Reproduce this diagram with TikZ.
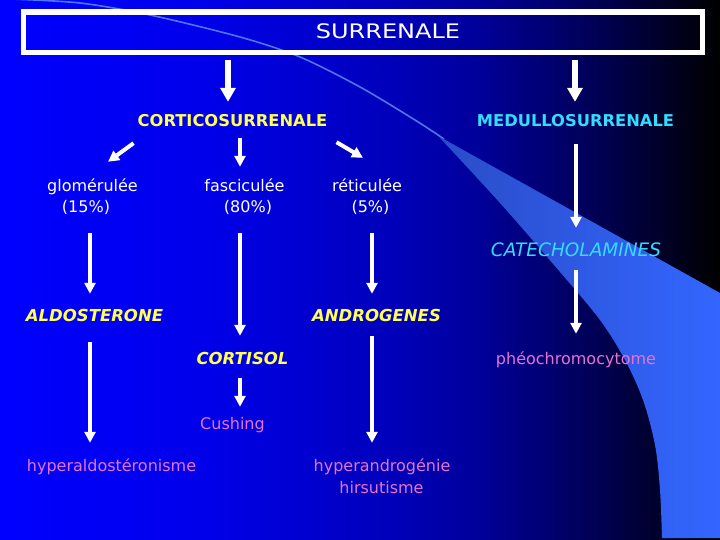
\documentclass[tikz,border=0pt]{standalone}
\usepackage{fontspec}
\setmainfont{DejaVu Sans}
\newfontfamily\widefont[FakeStretch=1.2]{DejaVu Sans}
\usetikzlibrary{arrows.meta,calc}
\definecolor{ylw}{HTML}{FFFF55}
\definecolor{cyn}{HTML}{33DDFF}
\definecolor{pnk}{HTML}{E673D2}
\definecolor{wedgec}{HTML}{3366FF}
\definecolor{wedged}{HTML}{2A4CC8}
\definecolor{arcc}{HTML}{4A78F0}
\pgfdeclarehorizontalshading{bgshade}{100bp}{rgb(0bp)=(0,0,1); rgb(25bp)=(0,0,1); rgb(38.9bp)=(0,0,0.92); rgb(52.8bp)=(0,0,0.72); rgb(58.3bp)=(0,0,0.6); rgb(66.7bp)=(0,0,0.32); rgb(75bp)=(0,0,0); rgb(100bp)=(0,0,0)}
\tikzset{
  titlebox/.style={draw=white, line width=5.5pt, minimum width=679pt, minimum height=40.5pt, inner sep=0pt},
  titletext/.style={font={\fontsize{20}{24}\widefont}, text=white, inner sep=0pt, text height=14pt, text depth=0pt, anchor=base},
  capsbold/.style={font=\fontsize{16.3}{19}\selectfont\bfseries, inner sep=0pt, text height=12pt, text depth=0pt, anchor=base},
  capsbi/.style={font=\fontsize{16.5}{19}\selectfont\bfseries\itshape, inner sep=0pt, text height=12pt, text depth=0pt, anchor=base},
  capsital/.style={font=\fontsize{18.5}{22}\selectfont\itshape, inner sep=0pt, text height=13.5pt, text depth=0pt, anchor=base},
  lower/.style={font=\fontsize{16}{19}\selectfont, inner sep=0pt, text height=12pt, text depth=3.8pt, anchor=base},
  arr/.style={draw=white, line width=4pt, -{Triangle[width=11pt,length=11pt]}},
  bigarr/.style={draw=white, line width=6.5pt, -{Triangle[width=15pt,length=14pt]}}
}
\begin{document}
\begin{tikzpicture}[x=1pt,y=1pt]
\useasboundingbox (0,0) rectangle (720,-540);
\shade[shading=bgshade] (0,0) rectangle (720,-540);
% decorative arc and wedge
\draw[arcc, line width=1.6pt] plot[smooth] coordinates {(10,1) (80,-3) (150,-15) (240,-37) (300,-57) (360,-87) (415,-120) (444,-139)};
\shade[left color=wedged, right color=wedgec]
  (440,-137) -- (720,-293)
  -- (720,-538) -- (662,-538)
  -- plot[smooth, tension=0.55] coordinates {(662,-538) (660,-490) (655,-445) (643,-400) (625,-360) (600,-320) (560,-272) (500,-203) (440,-138)}
  -- cycle;
% nodes
\node[titlebox] (surr) at (363,-32.25) {};
\node[titletext] (surrtxt) at (388,-39) {SURRENALE};
\node[capsbold, text=ylw] (cortico) at (232.5,-127) {CORTICOSURRENALE};
\node[capsbold, text=cyn] (medullo) at (575.5,-127) {MEDULLOSURRENALE};
\node[lower, text=white] (glom) at (92.5,-192) {glomérulée};
\node[lower, text=white] (glompct) at (86,-213) {(15\%)};
\node[lower, text=white] (fasc) at (244.5,-192) {fasciculée};
\node[lower, text=white] (fascpct) at (248,-213) {(80\%)};
\node[lower, text=white] (reti) at (367,-192) {réticulée};
\node[lower, text=white] (retipct) at (370.5,-213) {(5\%)};
\node[capsital, text=cyn] (catech) at (576,-256) {CATECHOLAMINES};
\node[capsbi, text=ylw] (aldo) at (94.5,-321) {ALDOSTERONE};
\node[capsbi, text=ylw] (andro) at (376.5,-321) {ANDROGENES};
\node[capsbi, text=ylw] (cortisol) at (242.5,-364) {CORTISOL};
\node[lower, text=pnk] (pheo) at (576,-364) {phéochromocytome};
\node[lower, text=pnk] (cushing) at (232.5,-429) {Cushing};
\node[lower, text=pnk] (hyperaldo) at (111.5,-471.5) {hyperaldostéronisme};
\node[lower, text=pnk] (handro) at (382,-471.5) {hyperandrogénie};
\node[lower, text=pnk] (hirsut) at (381.5,-493) {hirsutisme};
% connectors
\draw[bigarr] ($(surr.south -| cortico)+(-4.5,-4.75)$) -- ($(cortico.north)+(-4.5,13)$);
\draw[bigarr] ($(surr.south -| medullo)+(-0.5,-4.75)$) -- ($(medullo.north)+(-0.5,13)$);
\draw[arr] ($(cortico.south west)+(-4,-16)$) -- ($(glom.north)+(15.5,18)$);
\draw[arr] ($(cortico.south)+(7.5,-11)$) -- ($(fasc.north)+(-4.5,13)$);
\draw[arr] ($(cortico.south east)+(9,-15)$) -- ($(reti.north)+(-4,22)$);
\draw[arr] ($(glompct.south)+(4,-16.2)$) -- ($(aldo.north)+(-4.5,15)$);
\draw[arr] ($(fascpct.south)+(-8,-16.2)$) -- ($(cortisol.north)+(-2.5,16)$);
\draw[arr] ($(retipct.south)+(1.5,-16.2)$) -- ($(andro.north)+(-4.5,15)$);
\draw[arr] ($(medullo.south)+(0.5,-17)$) -- ($(catech.north)+(0,14.5)$);
\draw[arr] ($(catech.south)+(0,-14)$) -- ($(pheo.north)+(0,18)$);
\draw[arr] ($(aldo.south)+(-4.5,-21)$) -- ($(hyperaldo.north)+(-21.5,16.5)$);
\draw[arr] ($(andro.south)+(-4.5,-15)$) -- ($(handro.north)+(-10,16.5)$);
\draw[arr] ($(cortisol.south)+(-2.5,-14)$) -- ($(cushing.north)+(7.5,10)$);
\end{tikzpicture}
\end{document}
